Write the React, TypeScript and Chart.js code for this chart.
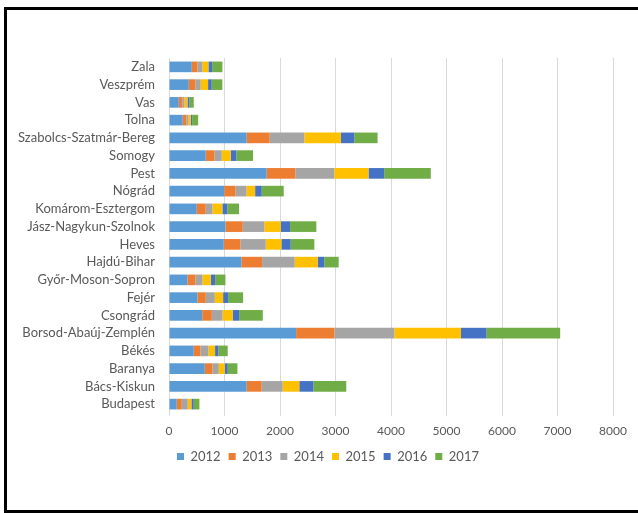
import React, { useEffect, useRef } from "react";
import { Chart, registerables } from "chart.js";

Chart.register(...registerables);

const categories = [
  "Zala", "Veszprém", "Vas", "Tolna", "Szabolcs-Szatmár-Bereg", "Somogy", "Pest", "Nógrád",
  "Komárom-Esztergom", "Jász-Nagykun-Szolnok", "Heves", "Hajdú-Bihar", "Győr-Moson-Sopron",
  "Fejér", "Csongrád", "Borsod-Abaúj-Zemplén", "Békés", "Baranya", "Bács-Kiskun", "Budapest",
];

const years = ["2012", "2013", "2014", "2015", "2016", "2017"];

const v2012 = [410, 356, 176, 248, 1400, 662, 1760, 994, 500, 1017, 987, 1305, 333, 513, 598, 2290, 446, 645, 1400, 140];
const v2013 = [102, 120, 67, 66, 414, 156, 516, 204, 162, 312, 300, 372, 144, 150, 174, 690, 120, 138, 270, 90];
const v2014 = [90, 95, 36, 36, 624, 132, 702, 198, 120, 390, 456, 588, 126, 162, 192, 1080, 144, 114, 378, 108];
const v2015 = [108, 133, 54, 42, 660, 162, 617, 156, 180, 294, 282, 414, 150, 150, 186, 1200, 120, 108, 300, 66];
const v2016 = [67, 65, 36, 25, 240, 102, 282, 119, 90, 168, 168, 119, 78, 90, 114, 462, 60, 54, 252, 42];
const v2017 = [185, 192, 77, 108, 420, 300, 840, 396, 210, 474, 426, 259, 186, 270, 426, 1326, 168, 174, 594, 102];

const seriesValues = [v2012, v2013, v2014, v2015, v2016, v2017];
const colors = ["#5B9BD5", "#ED7D31", "#A5A5A5", "#FFC000", "#4472C4", "#70AD47"];

const xTicks = [0, 1000, 2000, 3000, 4000, 5000, 6000, 7000, 8000];

export default function App() {
  const ref = useRef<HTMLCanvasElement | null>(null);

  useEffect(() => {
    if (!ref.current) return;
    const font = { family: "Lato", size: 12 };
    const chart = new Chart(ref.current, {
      type: "bar",
      data: {
        labels: categories,
        datasets: years.map((y, i) => ({
          label: y,
          data: seriesValues[i],
          backgroundColor: colors[i],
          borderWidth: 0,
          barPercentage: 0.6,
          categoryPercentage: 1,
        })),
      },
      options: {
        indexAxis: "y",
        animation: false,
        responsive: false,
        layout: { padding: { top: 58, right: 25, bottom: 40, left: 0 } },
        plugins: {
          tooltip: { enabled: false },
          legend: {
            position: "bottom",
            fullSize: false,
            align: "start",
            labels: {
              boxWidth: 7,
              boxHeight: 7,
              padding: 8,
              color: "#595959",
              font: { family: "Lato", size: 13 },
            },
          },
        },
        scales: {
          x: {
            stacked: true,
            min: 0,
            max: 8000,
            afterBuildTicks: (s: any) => {
              s.ticks = xTicks.map((v) => ({ value: v }));
            },
            afterFit: (s: any) => {
              s.height = 29;
            },
            grid: { color: "#D9D9D9", tickLength: 3 },
            border: { display: false },
            ticks: {
              color: "#595959",
              font,
              padding: 8,
              maxRotation: 0,
              callback: (v: any) => String(v),
            },
          },
          y: {
            stacked: true,
            afterFit: (s: any) => {
              s.width = 169;
            },
            grid: { display: false, drawTicks: false },
            border: { display: true, color: "#D9D9D9" },
            ticks: { color: "#595959", font: { family: "Lato", size: 13 }, padding: 14, autoSkip: false },
          },
        },
      },
    });
    return () => chart.destroy();
  }, []);

  return (
    <div style={{ position: "fixed", left: 0, top: 0, width: 638, height: 513, background: "#fff", overflow: "hidden" }}>
      <canvas ref={ref} width={638} height={513} style={{ position: "absolute", left: 0, top: 0 }} />
      <div
        style={{
          position: "absolute",
          left: 4,
          top: 7,
          width: 720,
          height: 506,
          boxSizing: "border-box",
          border: "3px solid #000",
          pointerEvents: "none",
        }}
      />
    </div>
  );
}
